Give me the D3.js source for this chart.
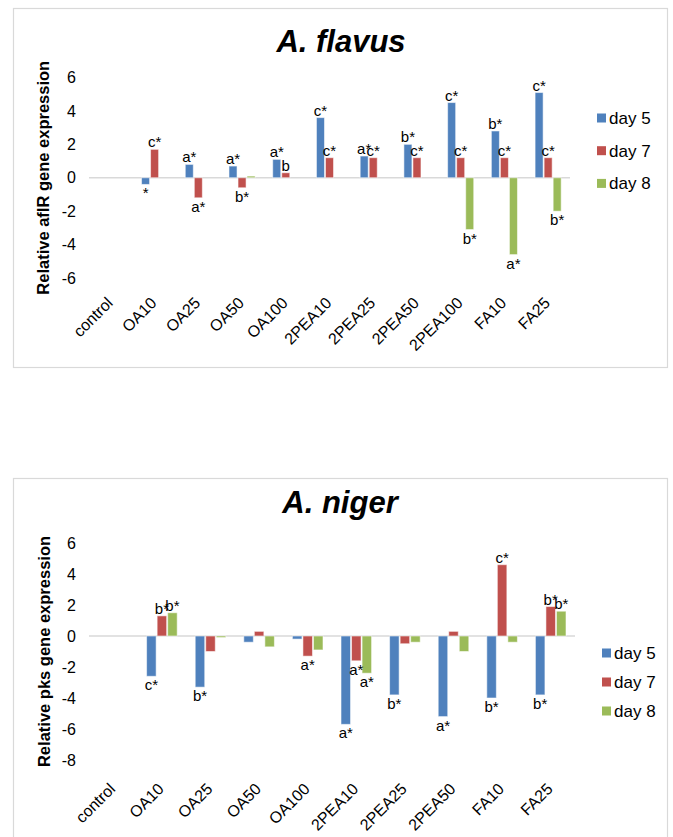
<!DOCTYPE html>
<html>
<head>
<meta charset="utf-8">
<script src="https://cdn.jsdelivr.net/npm/d3@7/dist/d3.min.js"></script>
<style>
  html, body { margin: 0; padding: 0; background: #fff; }
  svg { display: block; font-family: "Liberation Sans", Arial, sans-serif; }
</style>
</head>
<body>
<svg id="fig" width="673" height="837"></svg>
<script>
// ---- A. flavus: relative aflR expression ----
const flavusCategories = ["control", "OA10", "OA25", "OA50", "OA100", "2PEA10", "2PEA25", "2PEA50", "2PEA100", "FA10", "FA25"];
const flavusDay5 = [0, -0.4, 0.8, 0.7, 1.1, 3.6, 1.3, 2.0, 4.5, 2.8, 5.1];
const flavusDay7 = [0, 1.7, -1.2, -0.6, 0.3, 1.2, 1.2, 1.2, 1.2, 1.2, 1.2];
const flavusDay8 = [0, 0, 0, 0.1, 0, 0, 0, 0, -3.1, -4.6, -2.0];
const flavusLabels5 = ["", "*", "a*", "a*", "a*", "c*", "a*", "b*", "c*", "b*", "c*"];
const flavusLabels7 = ["", "c*", "a*", "b*", "b", "c*", "c*", "c*", "c*", "c*", "c*"];
const flavusLabels8 = ["", "", "", "", "", "", "", "", "b*", "a*", "b*"];
const flavusTicks = [-6, -4, -2, 0, 2, 4, 6];

// ---- A. niger: relative pks expression ----
const nigerCategories = ["control", "OA10", "OA25", "OA50", "OA100", "2PEA10", "2PEA25", "2PEA50", "FA10", "FA25"];
const nigerDay5 = [0, -2.6, -3.3, -0.4, -0.2, -5.7, -3.8, -5.2, -4.0, -3.8];
const nigerDay7 = [0, 1.3, -1.0, 0.3, -1.3, -1.6, -0.5, 0.3, 4.6, 1.9];
const nigerDay8 = [0, 1.5, -0.1, -0.7, -0.9, -2.4, -0.4, -1.0, -0.4, 1.6];
const nigerLabels5 = ["", "c*", "b*", "", "", "a*", "b*", "a*", "b*", "b*"];
const nigerLabels7 = ["", "b*", "", "", "a*", "a*", "", "", "c*", "b*"];
const nigerLabels8 = ["", "b*", "", "", "", "a*", "", "", "", "b*"];
const nigerTicks = [-8, -6, -4, -2, 0, 2, 4, 6];

const seriesNames = ["day 5", "day 7", "day 8"];
const seriesColors = ["#4f81bd", "#c0504d", "#9bbb59"];

const svg = d3.select("#fig");

function drawChart(cfg) {
  const g = svg.append("g");

  // outer chart frame
  g.append("rect")
    .attr("x", cfg.frame[0] + 0.5).attr("y", cfg.frame[1] + 0.5)
    .attr("width", cfg.frame[2]).attr("height", cfg.frame[3])
    .attr("fill", "#fff").attr("stroke", "#d9d9d9").attr("stroke-width", 1.2);

  // title
  g.append("text")
    .attr("x", cfg.titleX).attr("y", cfg.titleY)
    .attr("text-anchor", "middle")
    .attr("font-size", 31).attr("font-weight", "bold").attr("font-style", "italic")
    .attr("fill", "#000")
    .text(cfg.title);

  const x0 = d3.scaleBand().domain(cfg.categories).range(cfg.xRange).paddingInner(0).paddingOuter(0);
  const groupW = x0.bandwidth() * cfg.groupFrac;
  const x1 = d3.scaleBand().domain(seriesNames).range([0, groupW]);
  const y = d3.scaleLinear().domain(cfg.yDomain).range(cfg.yRange);

  // y tick labels
  const yAxis = d3.axisLeft(y).tickValues(cfg.ticks).tickSize(0).tickPadding(0).tickFormat(d3.format("d"));
  const ya = g.append("g").attr("transform", `translate(${cfg.xRange[0] - 13},0)`).call(yAxis);
  ya.select(".domain").remove();
  ya.selectAll("text").attr("font-size", 16).attr("fill", "#000")
    .attr("font-family", "Liberation Sans, Arial, sans-serif")
    .text(d => d < 0 ? "-" + Math.abs(d) : d);

  // y axis title
  const yMid = (cfg.yRange[0] + cfg.yRange[1]) / 2;
  g.append("text")
    .attr("transform", `translate(${cfg.yTitleX},${yMid}) rotate(-90)`)
    .attr("text-anchor", "middle")
    .attr("font-size", 16.5).attr("font-weight", "bold").attr("fill", "#000")
    .text(cfg.yTitle);

  // horizontal axis at zero
  g.append("line")
    .attr("x1", cfg.xRange[0]).attr("x2", cfg.xRange[1])
    .attr("y1", y(0)).attr("y2", y(0))
    .attr("stroke", "#d9d9d9").attr("stroke-width", 1.5);

  // bars
  const rows = [];
  cfg.categories.forEach((c, i) => {
    cfg.values.forEach((vals, s) => {
      rows.push({ cat: c, series: seriesNames[s], s, v: vals[i], label: cfg.labels[s][i] });
    });
  });
  const offset = (x0.bandwidth() - groupW) / 2;
  const bx = d => x0(d.cat) + offset + x1(d.series);

  g.append("g").selectAll("rect").data(rows.filter(d => d.v !== 0)).join("rect")
    .attr("x", d => bx(d) + 0.5)
    .attr("y", d => y(Math.max(0, d.v)))
    .attr("width", x1.bandwidth() - 1)
    .attr("height", d => Math.abs(y(d.v) - y(0)))
    .attr("fill", d => seriesColors[d.s])
    .attr("stroke", "#ffffff").attr("stroke-opacity", 0.55).attr("stroke-width", 1);

  // significance letters
  g.append("g").selectAll("text").data(rows.filter(d => d.label)).join("text")
    .attr("x", d => bx(d) + x1.bandwidth() / 2)
    .attr("y", d => d.v >= 0 ? y(d.v) - 2 : y(d.v) + 14)
    .attr("text-anchor", "middle")
    .attr("font-size", 15).attr("fill", "#000")
    .text(d => d.label);

  // category labels, slanted
  g.append("g").selectAll("text").data(cfg.categories).join("text")
    .attr("transform", c => `translate(${x0(c) + x0.bandwidth() / 2 + 3},${cfg.yRange[0] + cfg.xLabelDrop}) rotate(-45)`)
    .attr("text-anchor", "end")
    .attr("font-size", 16).attr("fill", "#000")
    .text(c => c);

  // legend
  const lg = g.append("g");
  seriesNames.forEach((name, i) => {
    const cy = cfg.legendY[0] + i * cfg.legendStep;
    lg.append("rect")
      .attr("x", cfg.legendX).attr("y", cy - 4.5)
      .attr("width", 9).attr("height", 9)
      .attr("fill", seriesColors[i]);
    lg.append("text")
      .attr("x", cfg.legendX + 12).attr("y", cy + 6)
      .attr("font-size", 17).attr("fill", "#000")
      .text(name);
  });
}

drawChart({
  title: "A. flavus",
  yTitle: "Relative aflR gene expression",
  frame: [13, 8, 654, 359],
  titleX: 341, titleY: 52,
  categories: flavusCategories,
  values: [flavusDay5, flavusDay7, flavusDay8],
  labels: [flavusLabels5, flavusLabels7, flavusLabels8],
  ticks: flavusTicks,
  xRange: [89, 570],
  yDomain: [-6, 6], yRange: [278, 77.5],
  groupFrac: 0.62,
  yTitleX: 49,
  xLabelDrop: 26,
  legendX: 597, legendY: [118], legendStep: 32.7
});

drawChart({
  title: "A. niger",
  yTitle: "Relative pks gene expression",
  frame: [13, 478, 654, 400],
  titleX: 340, titleY: 513,
  categories: nigerCategories,
  values: [nigerDay5, nigerDay7, nigerDay8],
  labels: [nigerLabels5, nigerLabels7, nigerLabels8],
  ticks: nigerTicks,
  xRange: [89, 575],
  yDomain: [-8, 6], yRange: [760, 543],
  groupFrac: 0.65,
  yTitleX: 50,
  xLabelDrop: 30,
  legendX: 602, legendY: [653], legendStep: 29
});
</script>
</body>
</html>
